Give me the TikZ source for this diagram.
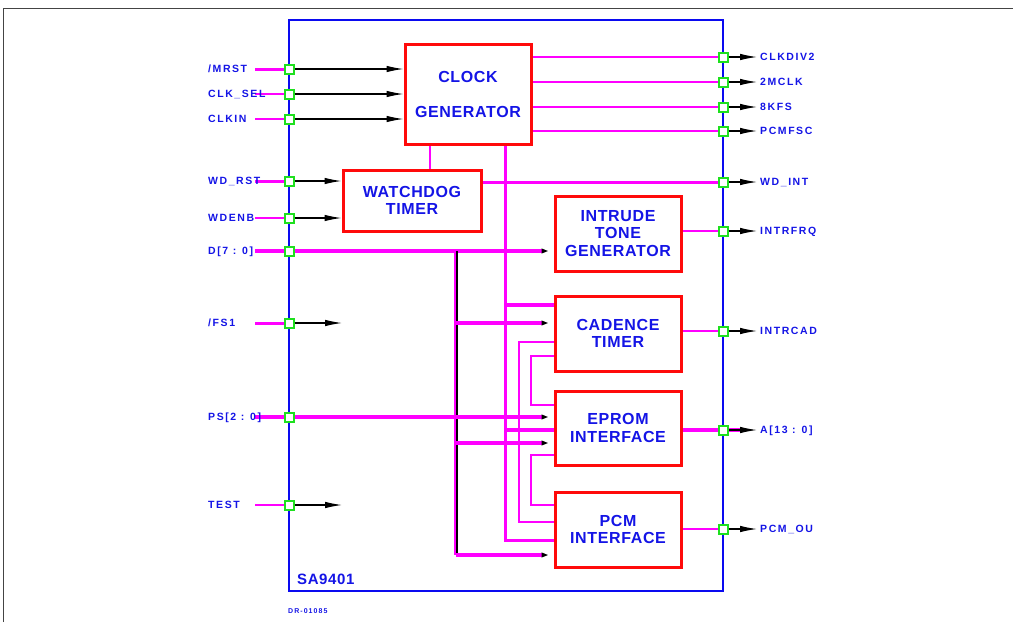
\documentclass[tikz,border=0pt]{standalone}
\usepackage{fontspec}
\setmainfont{Liberation Sans}
\newfontfamily\pinfont{Liberation Sans}[LetterSpace=15]
\newfontfamily\blkfont{Liberation Sans}[LetterSpace=4]
\usetikzlibrary{arrows.meta,backgrounds}
\definecolor{cBlue}{HTML}{1414E6}
\definecolor{cEdge}{HTML}{0A0AF0}
\definecolor{cRed}{HTML}{FF0A0A}
\definecolor{cMag}{HTML}{FF00FF}
\definecolor{cGrn}{HTML}{1EE01E}
\definecolor{cFrame}{HTML}{444444}
\tikzset{
  block/.style  = {draw=cRed, line width=3pt, fill=white, align=center, inner sep=0pt,
                   text=cBlue, font=\blkfont\bfseries\fontsize{16}{17.5}\selectfont},
  pin/.style    = {draw=cGrn, line width=2pt, fill=white, minimum size=9pt, inner sep=0pt},
  pinlbl/.style = {text=cBlue, inner sep=0pt, text height=7.5pt, text depth=0pt,
                   font=\pinfont\bfseries\fontsize{10.5}{12}\selectfont},
  sig/.style    = {draw=cMag, line width=2pt},
  bus/.style    = {draw=cMag, line width=3.5pt},
  dir/.style    = {-{Latex[length=17pt,width=6.5pt]}, line width=1.1pt, black},
  intip/.style  = {-{Latex[length=12pt,width=5pt,color=black]}},
}
\begin{document}
\begin{tikzpicture}[x=1pt, y=-1pt]
  \useasboundingbox (0,0) rectangle (1013,622);
  % sheet frame
  \draw[cFrame, line width=1.6pt] (3.5,622) |- (1013,8.5);
  % chip outline
  \node[draw=cEdge, line width=1.6pt, minimum width=434pt, minimum height=571pt,
        inner sep=0pt] (chip) at (506,305.5) {};
  \node[text=cBlue, anchor=base west, inner sep=0pt,
        font=\blkfont\bfseries\fontsize{15}{17}\selectfont] (name) at (297,584) {SA9401};
  \node[pinlbl, anchor=base west, font=\pinfont\bfseries\fontsize{7}{8}\selectfont]
    (dwg) at (288,613) {DR-01085};

  % function blocks
  \node[block, minimum width=126pt, minimum height=100pt] (clk) at (468,94)
    {CLOCK\\[17.5pt]GENERATOR};
  \node[block, minimum width=138pt, minimum height=61pt] (wd) at (412,200.5)
    {WATCHDOG\\TIMER};
  \node[block, minimum width=126pt, minimum height=75pt] (itg) at (618,233.5)
    {INTRUDE\\TONE\\GENERATOR};
  \node[block, minimum width=126pt, minimum height=75pt] (cad) at (618,333.5)
    {CADENCE\\TIMER};
  \node[block, minimum width=126pt, minimum height=74pt] (eprom) at (618,428)
    {EPROM\\INTERFACE};
  \node[block, minimum width=126pt, minimum height=75pt] (pcm) at (618,529.5)
    {PCM\\INTERFACE};

  % input pins
  \foreach \n/\y/\t/\w in {MRST/69/{/MRST}/3, CLKSEL/94/{CLK\_SEL}/2.5, CLKIN/119/CLKIN/2,
      WDRST/181/{WD\_RST}/3, WDENB/218/WDENB/2, D/251/{D[7 : 0]}/3.5, FS/323/{/FS1}/3,
      PS/417/{PS[2 : 0]}/3.5, TEST/505/TEST/1.5} {
    \node[pinlbl, anchor=west] (l\n) at (208,\y) {\t};
    \coordinate (s\n) at (255,\y);
    \node[pin] (p\n) at (289,\y) {};
    \begin{scope}[on background layer]
      \draw[draw=cMag, line width=\w pt] (s\n) -- (p\n);
    \end{scope}
  }

  % output pins
  \foreach \n/\y/\t in {DIV/57/CLKDIV2, MCLK/82/2MCLK, KFS/107/8KFS, FSC/131/PCMFSC,
      INT/182/{WD\_INT}, FRQ/231/INTRFRQ, CAD/331/INTRCAD, A/430/{A[13 : 0]},
      OU/529/{PCM\_OU}} {
    \node[pin] (p\n) at (723,\y) {};
    \node[pinlbl, anchor=west] (l\n) at (760,\y) {\t};
    \draw[dir, shorten >=3pt] (p\n.east) -- (l\n.west);
  }

  % inputs into blocks
  \foreach \n in {MRST,CLKSEL,CLKIN} \draw[dir] (p\n.east) -- (clk.west |- p\n);
  \foreach \n in {WDRST,WDENB} \draw[dir] (p\n.east) -- (wd.west |- p\n);
  \coordinate (eFS) at (342,323);
  \coordinate (eTEST) at (342,505);
  \draw[dir] (pFS.east) -- (eFS);
  \draw[dir] (pTEST.east) -- (eTEST);

  \begin{scope}[on background layer]
    % block outputs
    \foreach \n in {DIV,MCLK,KFS,FSC} \draw[sig] (clk.east |- p\n) -- (p\n);
    \draw[sig, line width=3pt] (wd.east |- pINT) -- (pINT);
    \draw[sig] (itg.east |- pFRQ) -- (pFRQ);
    \draw[sig] (cad.east |- pCAD) -- (pCAD);
    \draw[bus, line width=4pt] (eprom.east |- pA) -- (pA);
    \draw[bus, line width=4pt, shorten >=15pt] (pA) -- (lA.west);
    \draw[sig, line width=1.5pt] (pcm.east |- pOU) -- (pOU);

    % clock to watchdog
    \coordinate (ckw) at ([xshift=26pt]clk.south west);
    \draw[sig] (ckw) -- (ckw |- wd.north);

    % clock bus
    \coordinate (ckb) at ([xshift=102pt]clk.south west);
    \draw[bus, line width=3pt] (ckb) |- (pcm.west |- 0,540);
    \draw[bus, line width=3.5pt] (ckb |- 0,305) -- (cad.west |- 0,305);
    \draw[bus, line width=3.5pt] (ckb |- 0,430) -- (eprom.west |- 0,430);

    % data bus
    \draw[bus, intip] (pD) -- (itg.west |- pD);
    \coordinate (dbx) at (456,251);
    \draw[bus] (dbx) -- (dbx |- 0,555);
    \draw[black, line width=1.5pt] ([xshift=1pt]dbx) -- ([xshift=1pt]dbx |- 0,555);
    \foreach \y/\b in {323/cad, 443/eprom, 555/pcm}
      \draw[bus, line width=4pt, intip] (dbx |- 0,\y) -- (\b.west |- 0,\y);

    % page select
    \draw[bus, intip] (pPS) -- (eprom.west |- pPS);

    % block to block links
    \draw[sig, line width=1.8pt] (cad.west |- 0,342) -- (519,342) |- (pcm.west |- 0,522);
    \draw[sig, line width=1.8pt] (cad.west |- 0,356) -- (531,356) |- (eprom.west |- 0,405);
    \draw[sig, line width=1.8pt] (eprom.west |- 0,455) -- (531,455) |- (pcm.west |- 0,505);
  \end{scope}
\end{tikzpicture}
\end{document}
